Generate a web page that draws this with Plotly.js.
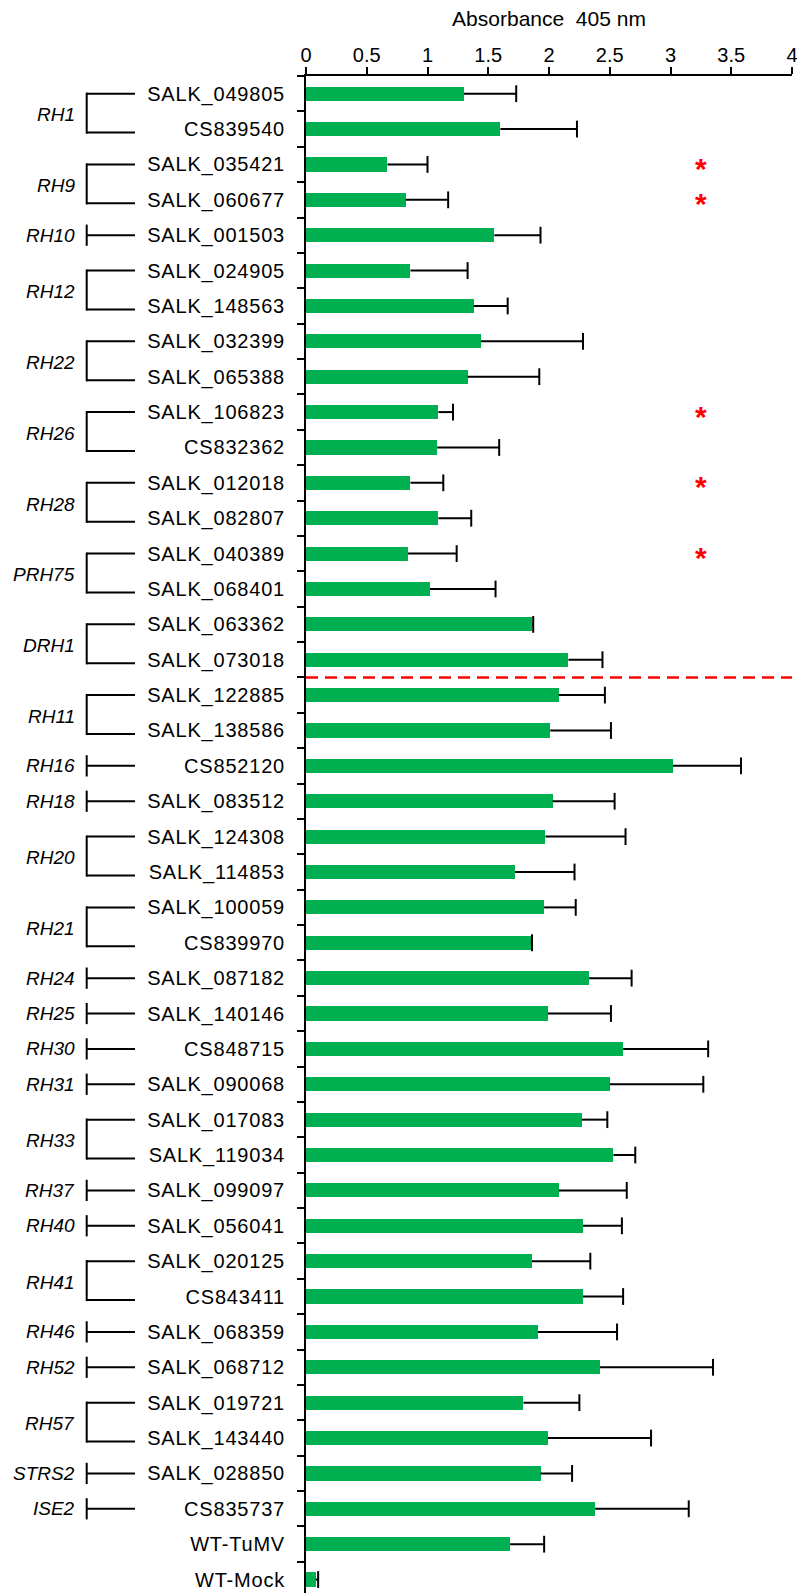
<!DOCTYPE html>
<html>
<head>
<meta charset="utf-8">
<script src="https://cdn.plot.ly/plotly-3.0.1.min.js"></script>
<style>
  html, body { margin: 0; padding: 0; background: #fff; }
  #chart { width: 797px; height: 1593px; }
  .ytick text { letter-spacing: 0.8px; }
</style>
</head>
<body>
<div id="chart"></div>
<script>
// ---- data ----
const lines = [
  'SALK_049805','CS839540','SALK_035421','SALK_060677','SALK_001503','SALK_024905','SALK_148563',
  'SALK_032399','SALK_065388','SALK_106823','CS832362','SALK_012018','SALK_082807','SALK_040389',
  'SALK_068401','SALK_063362','SALK_073018','SALK_122885','SALK_138586','CS852120','SALK_083512',
  'SALK_124308','SALK_114853','SALK_100059','CS839970','SALK_087182','SALK_140146','CS848715',
  'SALK_090068','SALK_017083','SALK_119034','SALK_099097','SALK_056041','SALK_020125','CS843411',
  'SALK_068359','SALK_068712','SALK_019721','SALK_143440','SALK_028850','CS835737','WT-TuMV','WT-Mock'
];
const absorbance = [
  1.30, 1.60, 0.67, 0.82, 1.55, 0.86, 1.38,
  1.44, 1.33, 1.09, 1.08, 0.86, 1.09, 0.84,
  1.02, 1.86, 2.16, 2.08, 2.01, 3.02, 2.03,
  1.97, 1.72, 1.96, 1.85, 2.33, 1.99, 2.61,
  2.50, 2.27, 2.53, 2.08, 2.28, 1.86, 2.28,
  1.91, 2.42, 1.79, 1.99, 1.93, 2.38, 1.68, 0.08
];
const errorUp = [
  0.43, 0.63, 0.33, 0.35, 0.38, 0.47, 0.28,
  0.84, 0.59, 0.12, 0.51, 0.27, 0.27, 0.40,
  0.54, 0.01, 0.28, 0.38, 0.50, 0.56, 0.51,
  0.66, 0.49, 0.26, 0.01, 0.35, 0.52, 0.70,
  0.77, 0.21, 0.18, 0.56, 0.32, 0.48, 0.33,
  0.65, 0.93, 0.46, 0.85, 0.26, 0.77, 0.28, 0.02
];
const genes = ['RH1','RH9','RH10','RH12','RH22','RH26','RH28','PRH75','DRH1','RH11','RH16','RH18','RH20',
  'RH21','RH24','RH25','RH30','RH31','RH33','RH37','RH40','RH41','RH46','RH52','RH57','STRS2','ISE2'];
const geneFirstLine = ['SALK_049805','SALK_035421','SALK_001503','SALK_024905','SALK_032399','SALK_106823',
  'SALK_012018','SALK_040389','SALK_063362','SALK_122885','CS852120','SALK_083512','SALK_124308',
  'SALK_100059','SALK_087182','SALK_140146','CS848715','SALK_090068','SALK_017083','SALK_099097',
  'SALK_056041','SALK_020125','SALK_068359','SALK_068712','SALK_019721','SALK_028850','CS835737'];
const geneLineCount = [2,2,1,2,2,2,2,2,2,2,1,1,2,2,1,1,1,1,2,1,1,2,1,1,2,1,1];
const significantLines = ['SALK_035421','SALK_060677','SALK_106823','SALK_012018','SALK_040389'];
const separatorAfter = 'SALK_073018';
const asteriskPos = 3.25;

// ---- build traces ----
const FONT = 'Liberation Sans, Arial, Helvetica, sans-serif';
const GREEN = '#00B050';

const bars = {
  type: 'bar', orientation: 'h',
  y: lines, x: absorbance, width: 0.4,
  marker: { color: GREEN, line: { width: 0 } },
  hoverinfo: 'skip'
};

const errX = [], errY = [];
lines.forEach((l, i) => {
  errX.push(absorbance[i], absorbance[i] + errorUp[i], null);
  errY.push(l, l, null);
});
const errLines = {
  type: 'scatter', mode: 'lines', x: errX, y: errY,
  line: { color: '#000', width: 2 }, hoverinfo: 'skip'
};
const errCaps = {
  type: 'scatter', mode: 'markers',
  x: absorbance.map((v, i) => v + errorUp[i]), y: lines,
  marker: { symbol: 'line-ns', size: 12, color: '#000', line: { color: '#000', width: 2 } },
  hoverinfo: 'skip'
};

// ---- brackets, gene labels, significance marks ----
const W = 797, L = 306, R = 5;
const plotW = W - L - R;
const px2paper = p => (p - L) / plotW;
const xVert = px2paper(86.7), xArm = px2paper(135), xLabel = px2paper(77);

const shapes = [], annotations = [];
genes.forEach((g, k) => {
  const i = lines.indexOf(geneFirstLine[k]);
  const ln = { color: '#000', width: 2 };
  if (geneLineCount[k] === 2) {
    const yTop = i, yBot = i + 1.1;
    shapes.push({ type: 'line', xref: 'paper', yref: 'y', x0: xArm, x1: xVert, y0: yTop, y1: yTop, line: ln });
    shapes.push({ type: 'line', xref: 'paper', yref: 'y', x0: xVert, x1: xVert, y0: yTop - 0.03, y1: yBot + 0.03, line: ln });
    shapes.push({ type: 'line', xref: 'paper', yref: 'y', x0: xVert, x1: xArm, y0: yBot, y1: yBot, line: ln });
    annotations.push({ xref: 'paper', yref: 'y', x: xLabel, y: i + 0.6, xanchor: 'right', yanchor: 'middle',
      text: g, showarrow: false, font: { family: FONT, size: 19, style: 'italic', color: '#000' } });
  } else {
    shapes.push({ type: 'line', xref: 'paper', yref: 'y', x0: xVert, x1: xVert, y0: i - 0.3, y1: i + 0.3, line: ln });
    shapes.push({ type: 'line', xref: 'paper', yref: 'y', x0: xVert, x1: xArm, y0: i, y1: i, line: ln });
    annotations.push({ xref: 'paper', yref: 'y', x: xLabel, y: i, xanchor: 'right', yanchor: 'middle',
      text: g, showarrow: false, font: { family: FONT, size: 19, style: 'italic', color: '#000' } });
  }
});
significantLines.forEach(l => {
  annotations.push({ xref: 'x', yref: 'y', x: asteriskPos, y: l, text: '*', showarrow: false,
    xanchor: 'center', yanchor: 'middle', yshift: -4,
    font: { family: FONT, size: 30, color: '#FF0000', weight: 'bold' } });
});
const sepIdx = lines.indexOf(separatorAfter) + 0.5;
shapes.push({ type: 'line', xref: 'x', yref: 'y', x0: 0, x1: 4, y0: sepIdx, y1: sepIdx,
  line: { color: '#FF0000', width: 2.5, dash: '12px,7px' } });

const layout = {
  width: W, height: 1593,
  margin: { l: L, r: R, t: 76, b: 0, pad: 0 },
  paper_bgcolor: '#fff', plot_bgcolor: '#fff',
  showlegend: false,
  font: { family: FONT, size: 20, color: '#000' },
  xaxis: {
    side: 'top', range: [0, 4], dtick: 0.5, tick0: 0,
    showline: true, linecolor: '#000', linewidth: 2,
    ticks: 'outside', ticklen: 7, tickwidth: 2, tickcolor: '#000',
    showgrid: false, zeroline: false,
    tickfont: { family: FONT, size: 20, color: '#000' },
    ticklabelstandoff: -3, ticklabeloverflow: 'allow',
    title: { text: 'Absorbance\u00a0 405 nm', font: { family: FONT, size: 21, color: '#000' }, standoff: 12 }
  },
  yaxis: {
    type: 'category', range: [42.38, -0.5],
    showline: true, linecolor: '#000', linewidth: 2,
    ticks: 'outside', ticklen: 7, tickwidth: 2, tickcolor: '#000', tickson: 'boundaries',
    showgrid: false, zeroline: false,
    tickfont: { family: FONT, size: 20, color: '#000' },
    ticklabelstandoff: 15
  },
  shapes: shapes,
  annotations: annotations,
  bargap: 0
};

Plotly.newPlot('chart', [bars, errLines, errCaps], layout, { displayModeBar: false, staticPlot: true });
</script>
</body>
</html>
